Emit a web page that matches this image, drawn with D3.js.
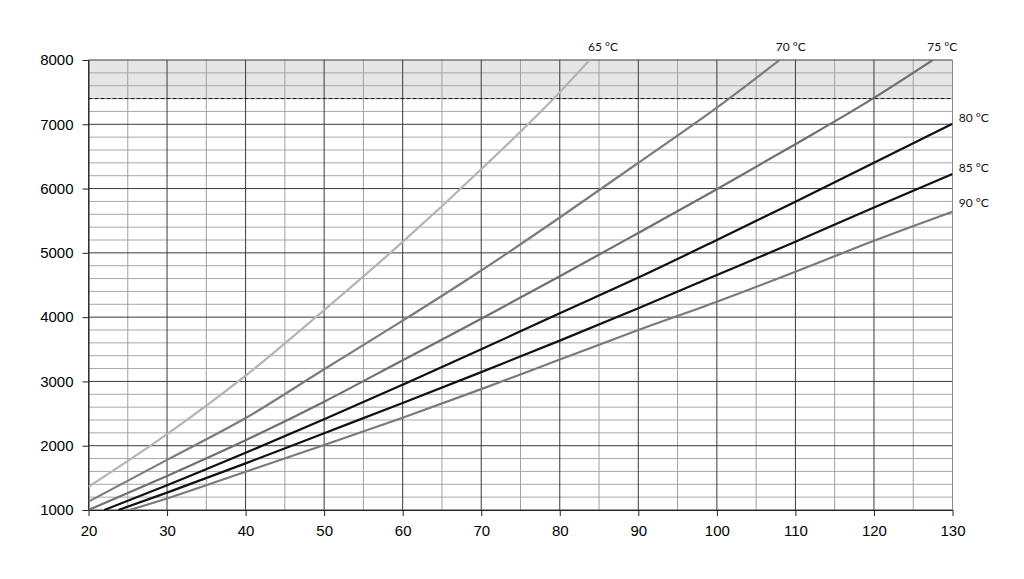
<!DOCTYPE html>
<html>
<head>
<meta charset="utf-8">
<script src="https://cdn.jsdelivr.net/npm/d3@7"></script>
<style>
  body { margin: 0; background: #fff; }
  svg { display: block; font-family: Lato, "Open Sans", sans-serif; }
  .tick-label { font-size: 15px; fill: #000; }
  .curve-label { font-size: 12px; fill: #111; }
</style>
</head>
<body>
<div id="chart"></div>
<script>
// axis ticks
const xTickValues = [20, 30, 40, 50, 60, 70, 80, 90, 100, 110, 120, 130];
const yTickValues = [1000, 2000, 3000, 4000, 5000, 6000, 7000, 8000];
const xMinorStep = 5;
const yMinorStep = 200;
const limitValue = 7400;

// one curve per temperature: [x, y]
const curve65 = [[20, 1360], [30, 2180], [40, 3090], [50, 4110], [60, 5170], [70, 6300], [80, 7500], [83.8, 8000]];
const curve70 = [[20, 1130], [30, 1780], [40, 2430], [50, 3190], [60, 3945], [70, 4725], [80, 5550], [90, 6400], [100, 7260], [108, 8000]];
const curve75 = [[20, 1000], [30, 1530], [40, 2085], [50, 2685], [60, 3330], [70, 3975], [80, 4635], [90, 5310], [100, 5990], [110, 6690], [120, 7410], [127.5, 8000]];
const curve80 = [[22, 1000], [30, 1385], [40, 1890], [50, 2410], [60, 2950], [70, 3500], [80, 4060], [90, 4615], [100, 5200], [110, 5795], [120, 6400], [130, 7010]];
const curve85 = [[23.8, 1000], [30, 1270], [40, 1725], [50, 2195], [60, 2665], [70, 3145], [80, 3635], [90, 4140], [100, 4655], [110, 5172], [120, 5705], [130, 6226]];
const curve90 = [[25.2, 1000], [30, 1180], [40, 1596], [50, 2010], [60, 2436], [70, 2880], [80, 3340], [90, 3800], [100, 4240], [110, 4706], [120, 5188], [130, 5640]];

const curveNames = ["65 °C", "70 °C", "75 °C", "80 °C", "85 °C", "90 °C"];
const curveData = [curve65, curve70, curve75, curve80, curve85, curve90];
const curveColors = ["#b4b4b4", "#7c7c7c", "#707070", "#111111", "#111111", "#7a7a7a"];
// where each label sits, in data units
const labelPos = [[85.5, 8145], [109.4, 8145], [128.7, 8145], [130.8, 7035], [130.8, 6265], [130.8, 5720]];

const width = 1024;
const height = 579;

const svg = d3.select("#chart")
  .append("svg")
  .attr("width", width)
  .attr("height", height);

const x = d3.scaleLinear().domain([20, 130]).range([88.5, 952.5]);
const y = d3.scaleLinear().domain([1000, 8000]).range([510, 60]);

// shaded band above the limit
svg.append("rect")
  .attr("x", x(20))
  .attr("y", y(8000))
  .attr("width", x(130) - x(20))
  .attr("height", y(limitValue) - y(8000))
  .attr("fill", "#e6e6e6");

// minor grid
const xMinor = d3.range(20, 130.1, xMinorStep).filter((v) => v % 10 !== 0);
const yMinor = d3.range(1000, 8000.1, yMinorStep).filter((v) => v % 1000 !== 0);

svg.append("g")
  .selectAll("line")
  .data(yMinor)
  .join("line")
  .attr("x1", x(20)).attr("x2", x(130))
  .attr("y1", (d) => y(d)).attr("y2", (d) => y(d))
  .attr("stroke", "#a8a8a8")
  .attr("stroke-width", 1);

svg.append("g")
  .selectAll("line")
  .data(xMinor)
  .join("line")
  .attr("x1", (d) => x(d)).attr("x2", (d) => x(d))
  .attr("y1", y(1000)).attr("y2", y(8000))
  .attr("stroke", "#a0a0a0")
  .attr("stroke-width", 1);

// major grid (right edge is a lighter frame line)
svg.append("g")
  .selectAll("line")
  .data(yTickValues)
  .join("line")
  .attr("x1", x(20)).attr("x2", x(130))
  .attr("y1", (d) => y(d)).attr("y2", (d) => y(d))
  .attr("stroke", "#3a3a3a")
  .attr("stroke-width", 1);

svg.append("g")
  .selectAll("line")
  .data(xTickValues)
  .join("line")
  .attr("x1", (d) => x(d)).attr("x2", (d) => x(d))
  .attr("y1", y(1000)).attr("y2", y(8000))
  .attr("stroke", (d) => (d === 130 ? "#8a8a8a" : "#3a3a3a"))
  .attr("stroke-width", 1);

// dashed limit line
svg.append("line")
  .attr("x1", x(20)).attr("x2", x(130))
  .attr("y1", y(limitValue)).attr("y2", y(limitValue))
  .attr("stroke", "#111")
  .attr("stroke-width", 1)
  .attr("stroke-dasharray", "4,2");

// axes
const xAxis = svg.append("g")
  .attr("transform", `translate(0,${y(1000)})`)
  .call(d3.axisBottom(x).tickValues(xTickValues).tickSize(6).tickPadding(9).tickSizeOuter(0));
const yAxis = svg.append("g")
  .attr("transform", `translate(${x(20)},0)`)
  .call(d3.axisLeft(y).tickValues(yTickValues).tickSize(6).tickPadding(9).tickFormat(d3.format("d")).tickSizeOuter(0));

[xAxis, yAxis].forEach((g) => {
  g.select(".domain").attr("stroke", "#222");
  g.selectAll(".tick line").attr("stroke", "#222");
  g.selectAll(".tick text")
    .attr("class", "tick-label")
    .attr("font-family", null)
    .attr("font-size", null);
});

// curves
svg.append("clipPath").attr("id", "plot-clip")
  .append("rect")
  .attr("x", x(20)).attr("y", y(8000))
  .attr("width", x(130) - x(20)).attr("height", y(1000) - y(8000));

const line = d3.line()
  .x((d) => x(d[0]))
  .y((d) => y(d[1]))
  .curve(d3.curveMonotoneX);

svg.append("g")
  .attr("clip-path", "url(#plot-clip)")
  .selectAll("path")
  .data(curveData)
  .join("path")
  .attr("d", line)
  .attr("fill", "none")
  .attr("stroke", (d, i) => curveColors[i])
  .attr("stroke-width", 2.2);

// curve labels
svg.append("g")
  .selectAll("text")
  .data(curveNames)
  .join("text")
  .attr("class", "curve-label")
  .attr("x", (d, i) => x(labelPos[i][0]))
  .attr("y", (d, i) => y(labelPos[i][1]))
  .attr("text-anchor", (d, i) => (i < 3 ? "middle" : "start"))
  .text((d) => d);
</script>
</body>
</html>
